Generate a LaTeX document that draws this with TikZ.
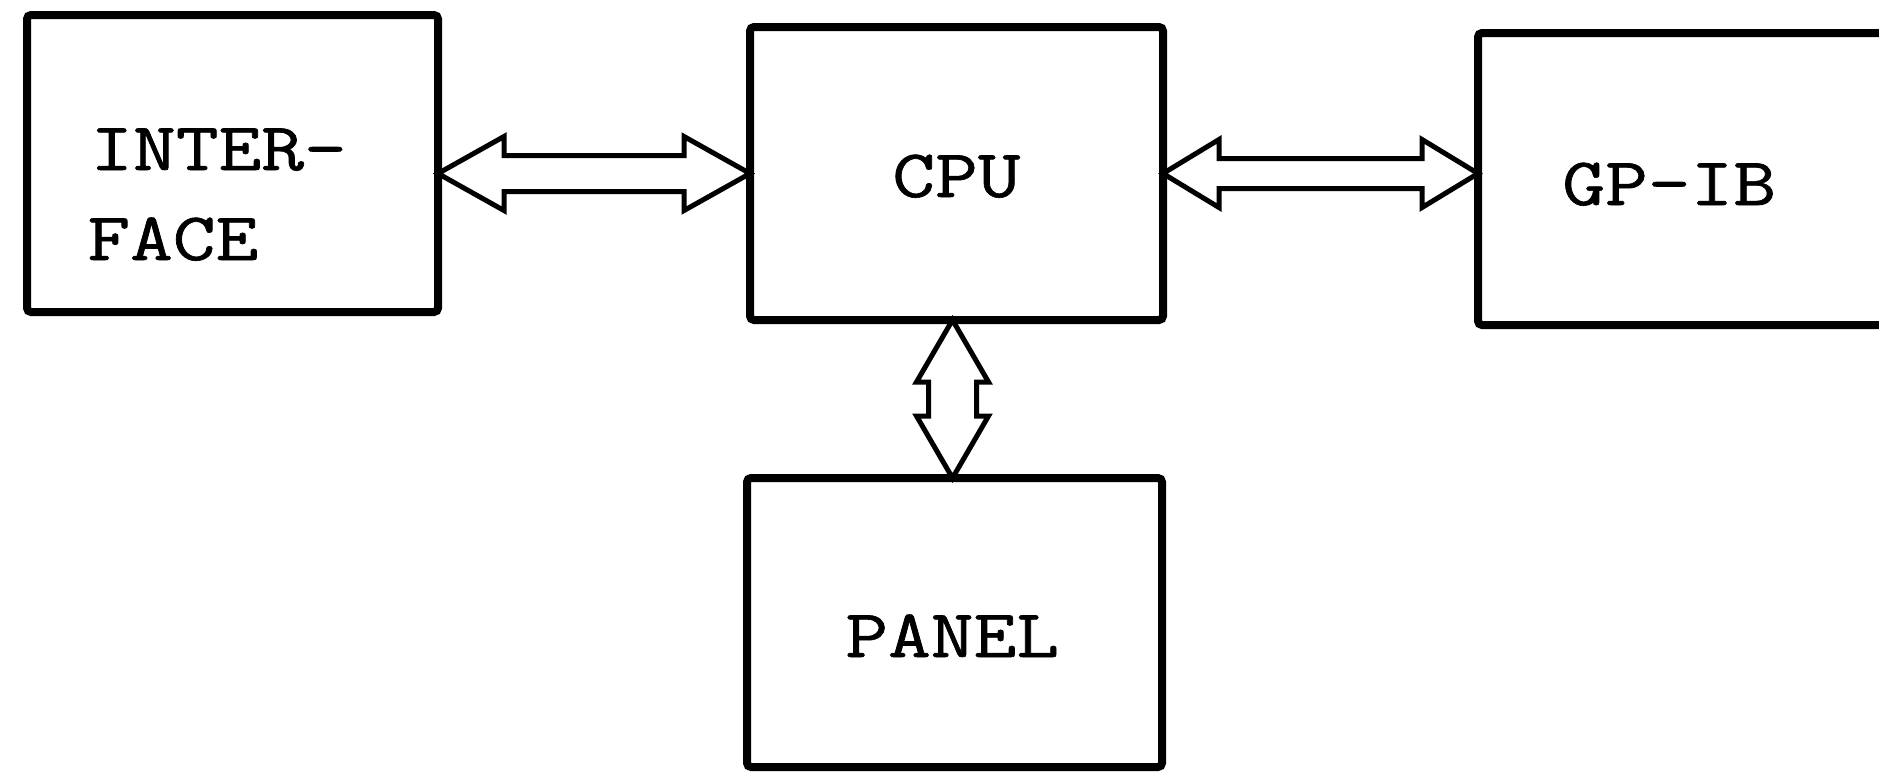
\documentclass[tikz,border=0pt]{standalone}
\usepackage{fontspec}
\newfontfamily\typefont[FakeBold=0.9]{Latin Modern Mono}
\usetikzlibrary{calc}
\newcommand{\blocktext}[1]{\scalebox{1.22}[1]{#1}}
\tikzset{
  blockbox/.style={draw=black, line width=4pt, rounded corners=2pt, outer sep=0pt, inner sep=0pt, fill=white},
  blocklabel/.style={anchor=base west, inner sep=0pt, font=\fontsize{34}{45}\selectfont\typefont},
  busarrow/.style={draw=black, line width=2.5pt, line join=miter, fill=white}
}
\begin{document}
\begin{tikzpicture}[x=0.5pt,y=-0.5pt]
\useasboundingbox (0,0) rectangle (1879,772);
\fill[white] (0,0) rectangle (1879,772);
% blocks
\node[blockbox, minimum width=205.5pt, minimum height=148.5pt] (ifc) at (232.5,163.5) {};
\node[blockbox, minimum width=206.5pt, minimum height=146.5pt] (cpu) at (956.5,173.5) {};
\node[blockbox, minimum width=211pt, minimum height=146pt] (gpib) at (1689,179) {};
\node[blockbox, minimum width=207.5pt, minimum height=144.5pt] (panel) at (954.5,622.5) {};
% labels
\node[blocklabel] (t1) at (90,170) {\blocktext{INTER-}};
\node[blocklabel] (t2) at (87,260) {\blocktext{FACE}};
\node[blocklabel] (t3) at (892,197) {\blocktext{CPU}};
\node[blocklabel] (t4) at (1562,205) {\blocktext{GP-IB}};
\node[blocklabel] (t5) at (845,657) {\blocktext{PANEL}};
% bus arrows
\coordinate (a1) at (ifc.east |- cpu.west);
\coordinate (b1) at (cpu.west);
\path[busarrow] (a1) -- ($(a1)+(66,-37)$) -- ($(a1)+(66,-18)$) -- ($(b1)+(-66,-18)$) -- ($(b1)+(-66,-37)$) -- (b1)
  -- ($(b1)+(-66,37)$) -- ($(b1)+(-66,18)$) -- ($(a1)+(66,18)$) -- ($(a1)+(66,37)$) -- cycle;
\coordinate (a2) at (cpu.east);
\coordinate (b2) at (gpib.west |- cpu.east);
\path[busarrow] (a2) -- ($(a2)+(56,-34)$) -- ($(a2)+(56,-15)$) -- ($(b2)+(-56,-15)$) -- ($(b2)+(-56,-34)$) -- (b2)
  -- ($(b2)+(-56,34)$) -- ($(b2)+(-56,15)$) -- ($(a2)+(56,15)$) -- ($(a2)+(56,34)$) -- cycle;
\coordinate (a3) at ($(cpu.south)+(-4,0)$);
\coordinate (b3) at (panel.north -| a3);
\path[busarrow] (a3) -- ($(a3)+(36,62)$) -- ($(a3)+(24,62)$) -- ($(b3)+(24,-62)$) -- ($(b3)+(36,-62)$) -- (b3)
  -- ($(b3)+(-36,-62)$) -- ($(b3)+(-24,-62)$) -- ($(a3)+(-24,62)$) -- ($(a3)+(-36,62)$) -- cycle;
\end{tikzpicture}
\end{document}
